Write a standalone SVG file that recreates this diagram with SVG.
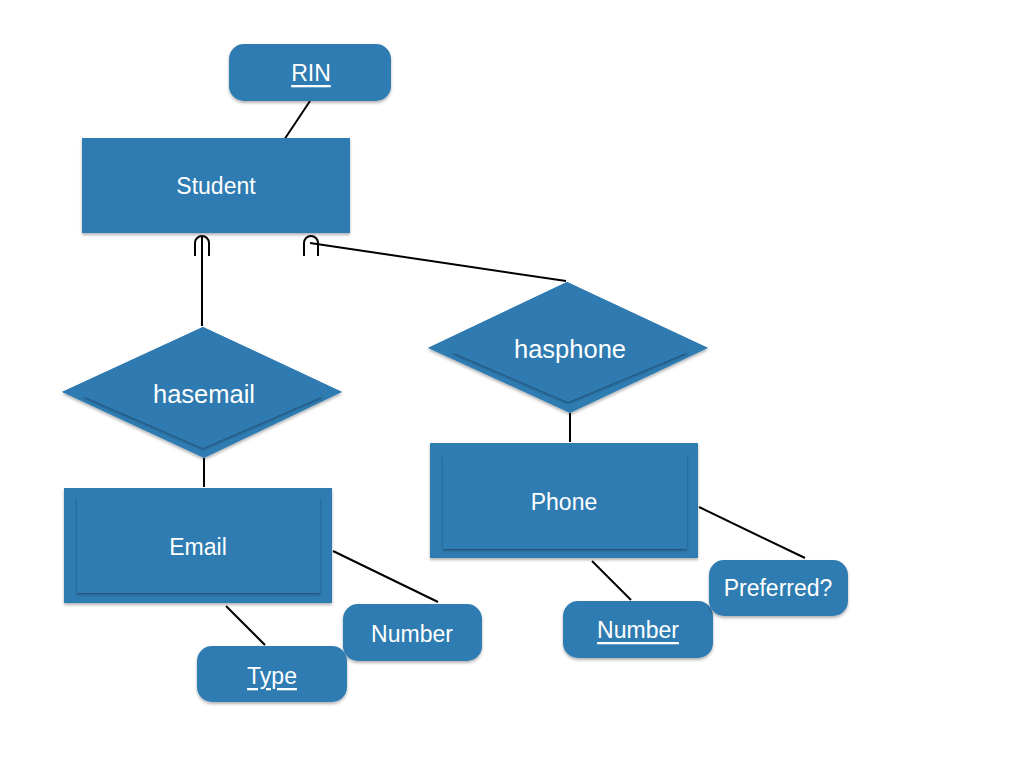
<svg xmlns="http://www.w3.org/2000/svg" width="1024" height="768" viewBox="0 0 1024 768">
  <defs>
    <filter id="sh" x="-10%" y="-10%" width="120%" height="130%">
      <feDropShadow dx="0" dy="2" stdDeviation="1.5" flood-color="#000" flood-opacity="0.3"/>
    </filter>
    <filter id="ish" x="-10%" y="-10%" width="120%" height="130%">
      <feDropShadow dx="0" dy="1.5" stdDeviation="1" flood-color="#0b2a40" flood-opacity="0.55"/>
    </filter>
  </defs>
  <style>
    .shape { fill: #2f7bb1; filter: url(#sh); }
    .inner { fill: #2f7bb1; filter: url(#ish); }
    .lbl { fill: #ffffff; font-family: "Liberation Sans", Arial, sans-serif; font-size: 23px; text-anchor: middle; dominant-baseline: central; }
    .big { font-size: 25.5px; }
    .u { text-decoration: underline; }
    .ln { stroke: #000; stroke-width: 2; fill: none; }
  </style>
  <rect width="1024" height="768" fill="#ffffff"/>

  <g id="connectors">
    <line class="ln" x1="310" y1="101" x2="284" y2="140"/>
    <line class="ln" x1="202" y1="237" x2="202" y2="326"/>
    <path class="ln" d="M195,256 V243 A7,7 0 0 1 209,243 V256"/>
    <path class="ln" d="M304,256 V243 A7,7 0 0 1 318,243 V256"/>
    <line class="ln" x1="310" y1="243" x2="566" y2="281"/>
    <line class="ln" x1="204" y1="458" x2="204" y2="487"/>
    <line class="ln" x1="570" y1="413" x2="570" y2="442"/>
    <line class="ln" x1="333" y1="551" x2="438" y2="602"/>
    <line class="ln" x1="226" y1="606" x2="265" y2="645"/>
    <line class="ln" x1="699" y1="507" x2="805" y2="558"/>
    <line class="ln" x1="592" y1="561" x2="631" y2="600"/>
  </g>

  <g id="RIN">
    <rect class="shape" x="229" y="44" width="162" height="57" rx="15"/>
    <text class="lbl u" x="311" y="73">RIN</text>
  </g>

  <g id="Student">
    <rect class="shape" x="82" y="138" width="268" height="95"/>
    <text class="lbl" x="216" y="186">Student</text>
  </g>

  <g id="hasemail">
    <polygon class="shape" points="203,327 342,392 204,458 62,392"/>
    <polygon class="inner" points="203,343 323,396 203,448 83,396"/>
    <polygon fill="#2f7bb1" points="203,327 342,392 323,394 203,446 83,394 62,392"/>
    <text class="lbl big" x="204" y="394">hasemail</text>
  </g>

  <g id="hasphone">
    <polygon class="shape" points="567,282 708,348 570,413 428,348"/>
    <polygon class="inner" points="568,300 688,352 568,402 452,352"/>
    <polygon fill="#2f7bb1" points="567,282 708,348 688,350 568,400 452,350 428,348"/>
    <text class="lbl big" x="570" y="349">hasphone</text>
  </g>

  <g id="Email">
    <rect class="shape" x="64" y="488" width="268" height="115"/>
    <rect class="inner" x="77" y="498" width="243" height="95"/>
    <text class="lbl" x="198" y="547">Email</text>
  </g>

  <g id="Phone">
    <rect class="shape" x="430" y="443" width="268" height="115"/>
    <rect class="inner" x="443" y="455" width="244" height="94"/>
    <text class="lbl" x="564" y="502">Phone</text>
  </g>

  <g id="EmailNumber">
    <rect class="shape" x="343" y="604" width="139" height="57" rx="15"/>
    <text class="lbl" x="412" y="634">Number</text>
  </g>

  <g id="Type">
    <rect class="shape" x="197" y="646" width="150" height="56" rx="15"/>
    <text class="lbl u" x="272" y="676">Type</text>
  </g>

  <g id="PhoneNumber">
    <rect class="shape" x="563" y="601" width="150" height="57" rx="15"/>
    <text class="lbl u" x="638" y="630">Number</text>
  </g>

  <g id="Preferred">
    <rect class="shape" x="709" y="560" width="139" height="56" rx="15"/>
    <text class="lbl" x="778" y="588">Preferred?</text>
  </g>
</svg>
